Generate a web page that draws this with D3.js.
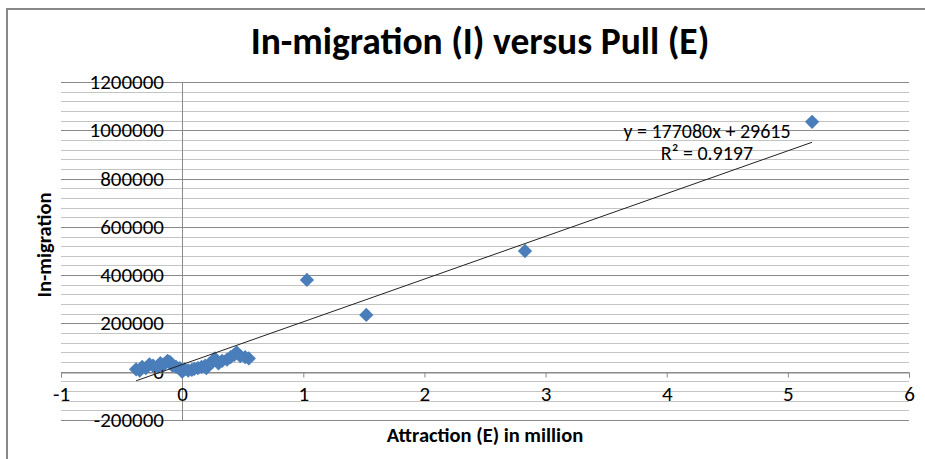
<!DOCTYPE html>
<html>
<head>
<meta charset="utf-8">
<script src="https://cdn.jsdelivr.net/npm/d3@7"></script>
<style>
  body { margin: 0; background: #fff; }
  text { font-family: Carlito, "Open Sans", sans-serif; fill: #000; }
</style>
</head>
<body>
<script>
// attraction (E, million) and in-migration (I)
const pullE = [5.2, 2.83, 1.03, 1.52,
  -0.38, -0.35, -0.33, -0.3, -0.27, -0.24, -0.2, -0.18, -0.15, -0.12, -0.1, -0.08,
  -0.05, -0.02, 0.0, 0.02, 0.05, 0.08, 0.1, 0.13, 0.16, 0.19, 0.2, 0.22, 0.25,
  0.27, 0.3, 0.33, 0.37, 0.4, 0.43, 0.45, 0.48, 0.52, 0.55]
const inMigration = [1035000, 500000, 380000, 235000,
  10000, 5000, 20000, 15000, 30000, 25000, 20000, 35000, 30000, 45000, 40000, 25000,
  20000, 15000, 0, 10000, 5000, 8000, 12000, 15000, 20000, 25000, 15000, 30000, 40000,
  55000, 35000, 45000, 50000, 60000, 70000, 80000, 65000, 60000, 55000]

const slope = 177080
const intercept = 29615
const eqLines = ['y = 177080x + 29615', 'R² = 0.9197']

const xTicks = [-1, 0, 1, 2, 3, 4, 5, 6]
const yTicks = [-200000, 0, 200000, 400000, 600000, 800000, 1000000, 1200000]

function main ({ w, h }) {
  const svg = d3.select('body')
    .append('svg')
    .attr('width', w)
    .attr('height', h)

  // chart frame, runs off the right and bottom edge
  svg.append('rect')
    .attr('x', 7).attr('y', 9)
    .attr('width', w + 20).attr('height', h + 20)
    .attr('fill', 'none')
    .attr('stroke', '#888')
    .attr('stroke-width', 2)

  const x = d3.scaleLinear().domain([-1, 6]).range([61, 909])
  const y = d3.scaleLinear().domain([-200000, 1200000]).range([420, 82])

  // minor + major horizontal gridlines
  const minor = d3.range(-200000, 1200001, 40000)
  svg.append('g')
    .selectAll('line')
    .data(minor)
    .join('line')
    .attr('x1', x(-1)).attr('x2', x(6))
    .attr('y1', d => Math.round(y(d)) + 0.5)
    .attr('y2', d => Math.round(y(d)) + 0.5)
    .attr('stroke', d => d % 200000 === 0 ? '#8a8a8a' : '#c4c4c4')

  // y axis sits at x = 0
  svg.append('line')
    .attr('x1', Math.round(x(0)) + 0.5).attr('x2', Math.round(x(0)) + 0.5)
    .attr('y1', y(1200000)).attr('y2', y(-200000))
    .attr('stroke', '#8a8a8a')

  svg.append('g')
    .selectAll('text')
    .data(yTicks)
    .join('text')
    .attr('x', 164)
    .attr('y', d => y(d) + 7)
    .attr('text-anchor', 'end')
    .attr('font-size', 21)
    .text(d => d)

  // x axis sits at y = 0
  const xAxis = svg.append('g')
    .attr('transform', `translate(0,${Math.round(y(0)) + 0.5})`)
    .call(d3.axisBottom(x).tickValues(xTicks).tickSize(5).tickPadding(9).tickFormat(d3.format('d')))
  xAxis.select('.domain').attr('stroke', '#8a8a8a')
  xAxis.selectAll('.tick line').attr('stroke', '#8a8a8a')
  xAxis.selectAll('.tick text')
    .attr('font-size', 21)
    .attr('font-family', 'Carlito, "Open Sans", sans-serif')
    .text(d => d < 0 ? '-' + Math.abs(d) : d)

  // points
  const pts = pullE.map((e, i) => ({ e, v: inMigration[i] }))
  svg.append('g')
    .selectAll('path')
    .data(pts)
    .join('path')
    .attr('d', d3.symbol(d3.symbolDiamond2, 130))
    .attr('transform', d => `translate(${x(d.e)},${y(d.v)})`)
    .attr('fill', '#4a7ebb')

  // linear trend
  const xmin = d3.min(pullE)
  const xmax = d3.max(pullE)
  svg.append('line')
    .attr('x1', x(xmin)).attr('y1', y(slope * xmin + intercept))
    .attr('x2', x(xmax)).attr('y2', y(slope * xmax + intercept))
    .attr('stroke', '#222')
    .attr('stroke-width', 1)

  svg.append('g')
    .selectAll('text')
    .data(eqLines)
    .join('text')
    .attr('x', 707)
    .attr('y', (d, i) => 138 + i * 22)
    .attr('text-anchor', 'middle')
    .attr('font-size', 20)
    .text(d => d)

  // titles
  svg.append('text')
    .attr('x', 480).attr('y', 54)
    .attr('text-anchor', 'middle')
    .attr('font-size', 37.5)
    .attr('font-weight', 'bold')
    .text('In-migration (I) versus Pull (E)')

  svg.append('text')
    .attr('x', 485).attr('y', 442)
    .attr('text-anchor', 'middle')
    .attr('font-size', 20.5)
    .attr('font-weight', 'bold')
    .text('Attraction (E) in million')

  svg.append('text')
    .attr('transform', 'translate(51,245) rotate(-90)')
    .attr('text-anchor', 'middle')
    .attr('font-size', 20.5)
    .attr('font-weight', 'bold')
    .text('In-migration')
}

main({ w: 925, h: 459 })
</script>
</body>
</html>
